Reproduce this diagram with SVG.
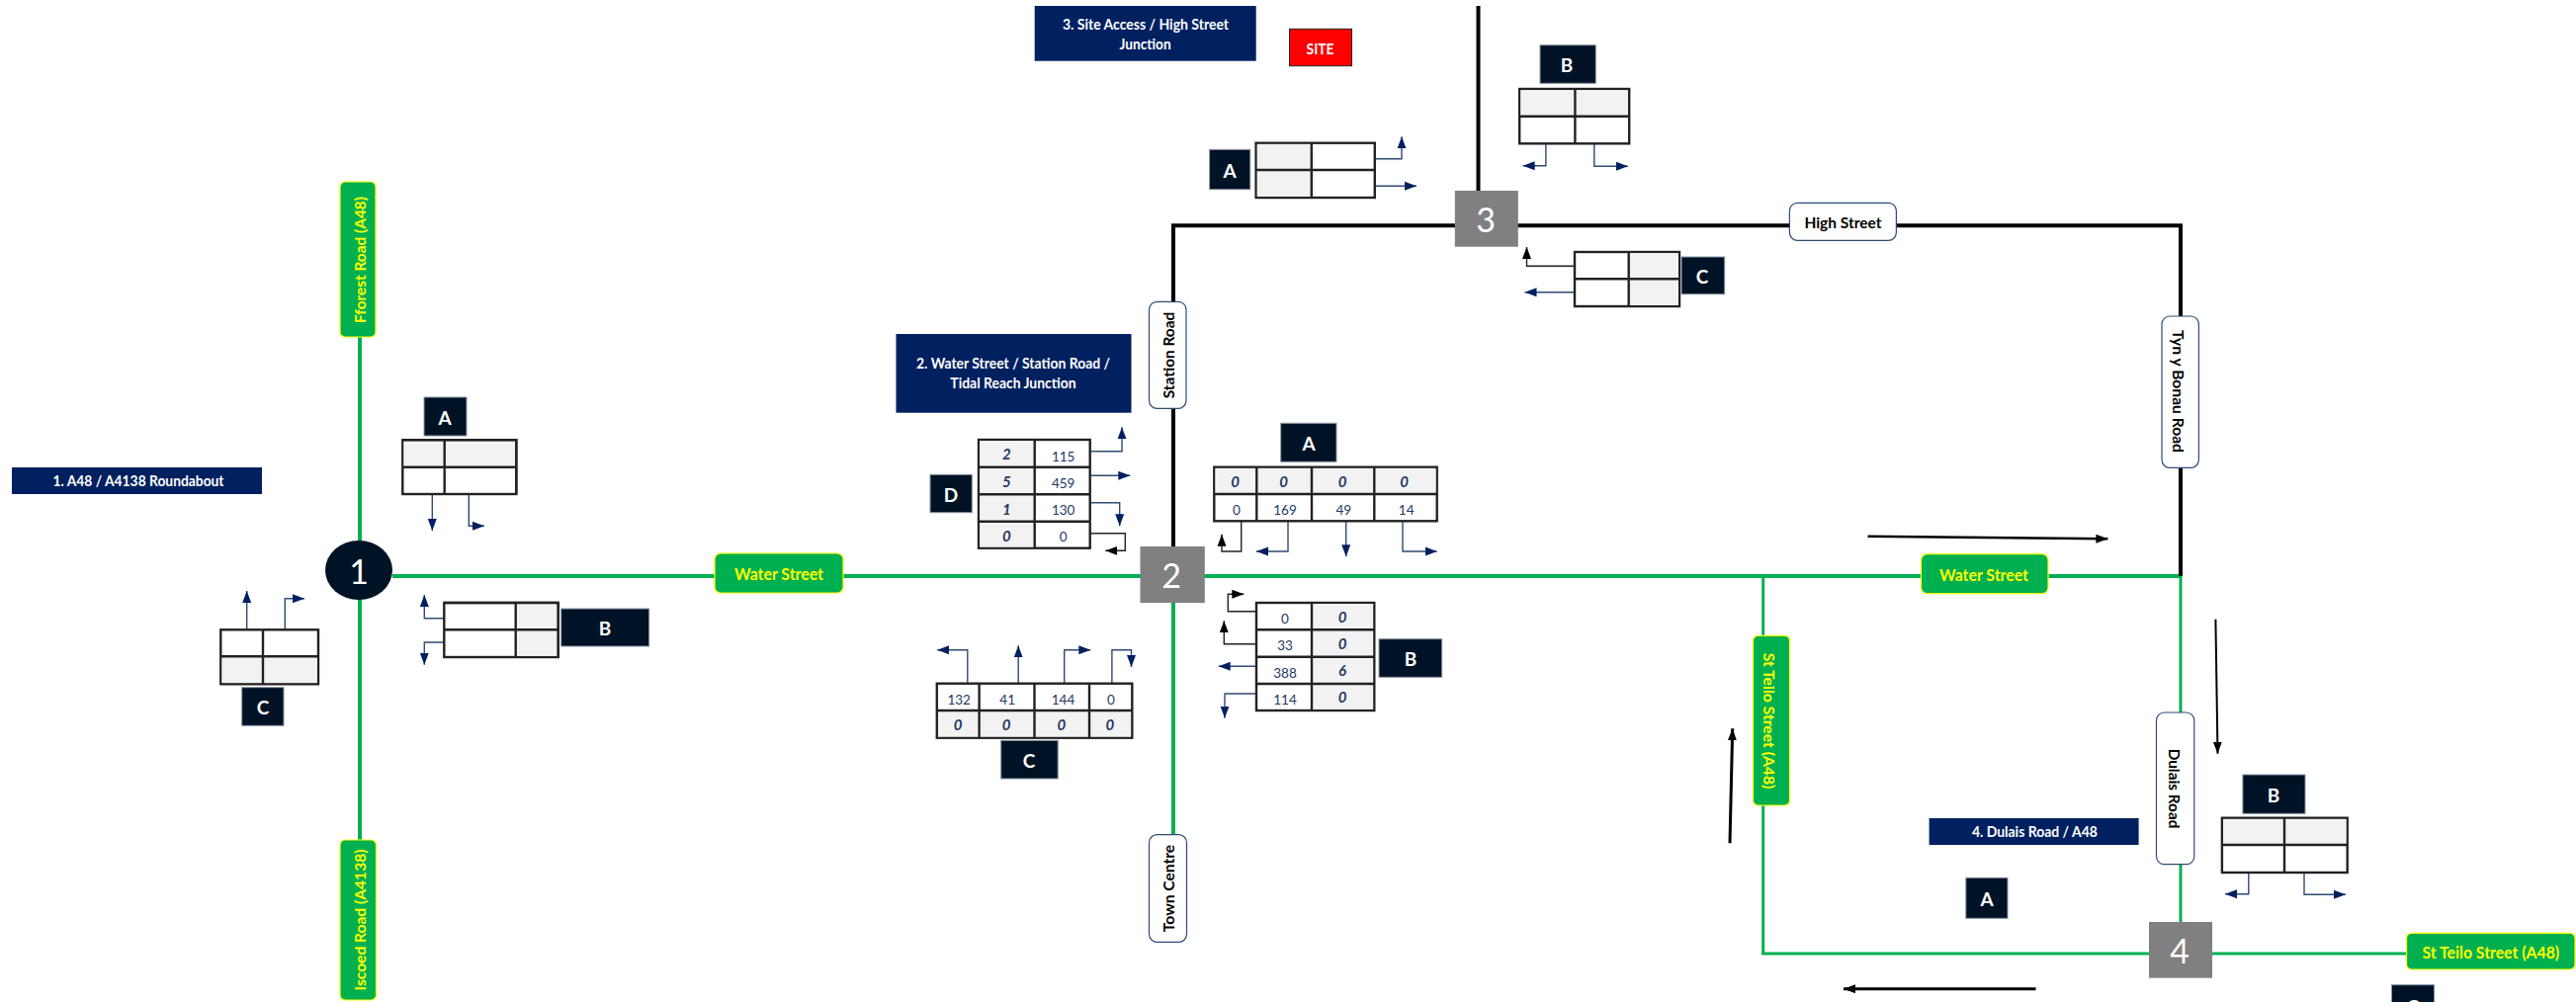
<svg xmlns="http://www.w3.org/2000/svg" width="2606" height="1014" viewBox="0 0 2606 1014">
<style>
text{font-family:"Lato","Liberation Sans",sans-serif;text-anchor:middle;dominant-baseline:central}
.green{stroke:#00B050;stroke-width:4;fill:none}
.green2{stroke:#00B050;stroke-width:3;fill:none}
.black{stroke:#000;stroke-width:4;fill:none}
.arr{stroke:#2F4B73;stroke-width:1.4;fill:none;marker-end:url(#nav)}
.arrk{stroke:#222;stroke-width:1.4;fill:none;marker-end:url(#blk)}
.big{stroke:#000;fill:none;marker-end:url(#big)}
.title{fill:#002060}
.tt{fill:#fff;font-weight:700;font-size:15px}
.lab{fill:#001226;stroke:#8C96A3;stroke-width:1}
.lt{fill:#fff;font-weight:700;font-size:19px}
.node{fill:#808080}
.nt{fill:#fff;font-size:34px}
.gl{fill:#00B050;stroke:#FFFF00;stroke-width:1.2}
.gt{fill:#FFFF00;font-weight:700;font-size:16px}
.wl{fill:#fff;stroke:#2F4B73;stroke-width:1.2}
.wt{fill:#000;font-weight:700;font-size:16px}
.sh{fill:#F2F2F2}
.grid{fill:#fff;stroke:#222;stroke-width:2.4}
.gridl{fill:none;stroke:#222;stroke-width:2.4}
.v{fill:#1F3864;font-size:13.5px}
.i{fill:#1F3864;font-size:15px;font-weight:700;font-style:italic}
</style>
<defs>
<marker id="nav" markerUnits="userSpaceOnUse" markerWidth="14" markerHeight="10" refX="12" refY="5" orient="auto"><path d="M0 .5L12 5L0 9.5z" fill="#002060"/></marker>
<marker id="blk" markerUnits="userSpaceOnUse" markerWidth="14" markerHeight="10" refX="12" refY="5" orient="auto"><path d="M0 .5L12 5L0 9.5z" fill="#000"/></marker>
<marker id="big" markerUnits="userSpaceOnUse" markerWidth="14" markerHeight="10" refX="12" refY="5" orient="auto"><path d="M0 .5L12 5L0 9.5z" fill="#000"/></marker>
</defs>
<rect width="2606" height="1014" fill="#fff"/>
<g id="connectors">
<path class="green" d="M364 341V560M364 600V851M397 583H1160M1215 583H2206M1187 610V845"/>
<path class="black" d="M1187 553V228.3H2206V583M1495.5 6V193"/>
<path class="green2" d="M2206 583V933M1783.7 583V965M1782 965H2440"/>
<path class="arr" d="M437.3 500V537"/><path class="arr" d="M474.3 500V532.3H490"/>
<path class="arr" d="M449.3 625.7H429.3V602"/><path class="arr" d="M449.3 650H429.3V672.7"/>
<path class="arr" d="M249.7 637V598"/><path class="arr" d="M288.3 637V605.7H308"/>
<path class="arr" d="M1390.8 160.7H1418V138.3"/><path class="arr" d="M1390.8 188.3H1433"/>
<path class="arr" d="M1563.9 142V167.7H1540.6"/><path class="arr" d="M1612.8 145V168.3H1646.8"/>
<path class="arrk" d="M1593 269.3H1544.5V250"/><path class="arr" d="M1593 295.7H1542.5"/>
<path class="arr" d="M1102.7 456.7H1135V432.3"/><path class="arr" d="M1102.7 481.3H1143.3"/>
<path class="arr" d="M1102.7 508.7H1132.7V532.3"/><path class="arrk" d="M1102.7 539.7H1138.3V557.3H1118.3"/>
<path class="arrk" d="M1255.7 525.3V558H1236V540.7"/><path class="arr" d="M1303 527V558H1271"/>
<path class="arr" d="M1361.7 525V563.3"/><path class="arr" d="M1419 525V558H1453.7"/>
<path class="arrk" d="M1271 618.7H1242.3V601.3H1258.3"/><path class="arrk" d="M1271 651.7H1238.3V628.3"/>
<path class="arr" d="M1271 674.3H1232.7"/><path class="arr" d="M1271 702H1239V726.7"/>
<path class="arr" d="M978.8 691V657.7H948.2"/><path class="arr" d="M1030.2 691V653.3"/>
<path class="arr" d="M1076.7 691V657.7H1103.3"/><path class="arr" d="M1124.9 691V657.7H1144.5V675"/>
<path class="arr" d="M2274.8 879.3V904.7H2251"/><path class="arr" d="M2331 880V905.3H2373"/>
<path class="big" stroke-width="2.5" d="M1889.5 542.7L2132.4 545.3"/>
<path class="big" stroke-width="2" d="M2241.4 626.7L2243.5 762.7"/>
<path class="big" stroke-width="3" d="M2059.5 1000.7H1865"/>
<path class="big" stroke-width="3" d="M1750 853.3L1752.7 737.3"/>
</g>
<g id="title-1"><rect class="title" x="12" y="473" width="253" height="27"/><text class="tt" x="140" y="486" textLength="173" lengthAdjust="spacingAndGlyphs">1. A48 / A4138 Roundabout</text></g>
<g id="title-2"><rect class="title" x="906.5" y="338" width="238" height="79.7"/><text class="tt" x="1025" y="367" textLength="196" lengthAdjust="spacingAndGlyphs">2. Water Street / Station Road /</text><text class="tt" x="1025" y="387" textLength="127.3" lengthAdjust="spacingAndGlyphs">Tidal Reach Junction</text></g>
<g id="title-3"><rect class="title" x="1046.7" y="6" width="224" height="55.7"/><text class="tt" x="1159" y="24.3" textLength="168" lengthAdjust="spacingAndGlyphs">3. Site Access / High Street</text><text class="tt" x="1158.6" y="44.3" textLength="52" lengthAdjust="spacingAndGlyphs">Junction</text></g>
<g id="title-4"><rect class="title" x="1951.6" y="828" width="212" height="27"/><text class="tt" x="2058.4" y="841" textLength="127" lengthAdjust="spacingAndGlyphs">4. Dulais Road / A48</text></g>
<g id="site"><rect x="1304.5" y="29.3" width="63" height="37.4" fill="#FF0000" stroke="#222" stroke-width="1"/><text class="tt" x="1335.6" y="48.7" textLength="28" lengthAdjust="spacingAndGlyphs">SITE</text></g>

<g id="node-1"><ellipse cx="363" cy="577" rx="34" ry="30" fill="#001226"/><text class="nt" x="363" y="577" fill="#fff">1</text></g>
<g id="node-2"><rect class="node" x="1153.5" y="553" width="65.3" height="57"/><text class="nt" x="1185" y="581">2</text></g>
<g id="node-3"><rect class="node" x="1471.8" y="193" width="64" height="56.7"/><text class="nt" x="1503" y="221">3</text></g>
<g id="node-4"><rect class="node" x="2174" y="933" width="64" height="56.7"/><text class="nt" x="2205" y="961">4</text></g>

<g id="road-fforest"><rect class="gl" x="344" y="184" width="36" height="157" rx="5"/><text class="gt" transform="translate(363 263) rotate(-90)" textLength="128" lengthAdjust="spacingAndGlyphs">Fforest Road (A48)</text></g>
<g id="road-iscoed"><rect class="gl" x="344" y="850" width="36.5" height="162" rx="5"/><text class="gt" transform="translate(363.5 931) rotate(-90)" textLength="143" lengthAdjust="spacingAndGlyphs">Iscoed Road (A4138)</text></g>
<g id="road-water-1"><rect class="gl" x="723" y="560" width="130" height="40" rx="6"/><text class="gt" x="788" y="580" textLength="90" lengthAdjust="spacingAndGlyphs" style="font-size:17px">Water Street</text></g>
<g id="road-water-2"><rect class="gl" x="1943.5" y="560.7" width="128.5" height="40" rx="6"/><text class="gt" x="2007" y="581" textLength="90" lengthAdjust="spacingAndGlyphs" style="font-size:17px">Water Street</text></g>
<g id="road-teilo-v"><rect class="gl" x="1773.5" y="643.3" width="37" height="171.7" rx="5"/><text class="gt" transform="translate(1790.5 729.5) rotate(90)" textLength="137.6" lengthAdjust="spacingAndGlyphs">St Teilo Street (A48)</text></g>
<g id="road-teilo-h"><rect class="gl" x="2434.6" y="944.3" width="170.4" height="36.7" rx="5"/><text class="gt" x="2519.8" y="963" textLength="138.7" lengthAdjust="spacingAndGlyphs" style="font-size:17px">St Teilo Street (A48)</text></g>
<g id="road-station"><rect class="wl" x="1162.5" y="305.3" width="37.5" height="108" rx="8"/><text class="wt" transform="translate(1181 359.5) rotate(-90)" textLength="87.6" lengthAdjust="spacingAndGlyphs">Station Road</text></g>
<g id="road-high"><rect class="wl" x="1810.4" y="205.3" width="108" height="38" rx="8"/><text class="wt" x="1864.4" y="224" textLength="78" lengthAdjust="spacingAndGlyphs">High Street</text></g>
<g id="road-tyn"><rect class="wl" x="2187" y="320" width="37.4" height="153.3" rx="8"/><text class="wt" transform="translate(2204 396) rotate(90)" textLength="124" lengthAdjust="spacingAndGlyphs">Tyn y Bonau Road</text></g>
<g id="road-dulais"><rect class="wl" x="2181.5" y="721" width="38.3" height="153.7" rx="8"/><text class="wt" transform="translate(2200 798) rotate(90)" textLength="80.7" lengthAdjust="spacingAndGlyphs">Dulais Road</text></g>
<g id="road-town"><rect class="wl" x="1162.5" y="844.7" width="38" height="108.6" rx="8"/><text class="wt" transform="translate(1181 899) rotate(-90)" textLength="88.3" lengthAdjust="spacingAndGlyphs">Town Centre</text></g>

<g id="j1-a"><rect class="grid" x="407.3" y="445.3" width="115" height="54.7"/><rect class="sh" x="408.5" y="446.5" width="112.6" height="26"/><path class="gridl" d="M449.7 445.3V500M407.3 472.7H522.3M407.3 445.3H522.3V500"/><rect class="lab" x="429" y="402" width="43" height="39"/><text class="lt" x="450" y="422">A</text></g>
<g id="j1-b"><rect class="grid" x="449.3" y="610" width="115.4" height="55"/><rect class="sh" x="521.7" y="611.2" width="41.8" height="52.6"/><path class="gridl" d="M521.7 610V665M449.3 637.3H564.7M449.3 610H564.7V665"/><rect class="lab" x="567.7" y="616" width="89" height="38"/><text class="lt" x="612" y="635">B</text></g>
<g id="j1-c"><rect class="grid" x="223.3" y="637.3" width="98.7" height="55"/><rect class="sh" x="224.5" y="664.3" width="96.3" height="26.8"/><path class="gridl" d="M266 637.3V692.3M223.3 664.3H322"/><rect class="lab" x="244.7" y="695.7" width="42.3" height="38.6"/><text class="lt" x="266" y="715">C</text></g>

<g id="j2-a"><rect class="grid" x="1228.3" y="472.7" width="225.4" height="54.6"/><rect class="sh" x="1229.5" y="473.9" width="223" height="26"/><path class="gridl" d="M1271.3 472.7V527.3M1327 472.7V527.3M1390.3 472.7V527.3M1228.3 500H1453.7"/><rect class="lab" x="1295.7" y="428.3" width="56.3" height="39"/><text class="lt" x="1324" y="448">A</text>
<text class="i" x="1249.7" y="487.3">0</text><text class="i" x="1298.7" y="487.3">0</text><text class="i" x="1358" y="487.3">0</text><text class="i" x="1420.7" y="487.3">0</text>
<text class="v" x="1251" y="516.3">0</text><text class="v" x="1300" y="516.3">169</text><text class="v" x="1359.3" y="516.3">49</text><text class="v" x="1422.7" y="516.3">14</text></g>
<g id="j2-b"><rect class="grid" x="1271" y="610" width="119.3" height="109"/><rect class="sh" x="1327" y="611.2" width="62.1" height="106.6"/><path class="gridl" d="M1327 610V719M1271 637.3H1390.3M1271 664.7H1390.3M1271 692H1390.3"/><rect class="lab" x="1395" y="646.7" width="63.7" height="38.6"/><text class="lt" x="1427" y="666">B</text>
<text class="v" x="1300" y="626.3">0</text><text class="v" x="1300" y="653">33</text><text class="v" x="1300" y="681.3">388</text><text class="v" x="1300" y="708.3">114</text>
<text class="i" x="1358" y="624">0</text><text class="i" x="1358" y="651.3">0</text><text class="i" x="1358" y="678.3">6</text><text class="i" x="1358" y="705.3">0</text></g>
<g id="j2-c"><rect class="grid" x="947.8" y="691.7" width="197.5" height="55"/><rect class="sh" x="949" y="719" width="195.1" height="26.5"/><path class="gridl" d="M990.6 691.7V746.7M1046.5 691.7V746.7M1102 691.7V746.7M947.8 719H1145.3"/><rect class="lab" x="1012.7" y="749.3" width="57.5" height="38.7"/><text class="lt" x="1041" y="769">C</text>
<text class="v" x="970.2" y="708.3">132</text><text class="v" x="1019.2" y="708.3">41</text><text class="v" x="1075.5" y="708.3">144</text><text class="v" x="1124" y="708.3">0</text>
<text class="i" x="969" y="733.3">0</text><text class="i" x="1018" y="733.3">0</text><text class="i" x="1073.9" y="733.3">0</text><text class="i" x="1122.9" y="733.3">0</text></g>
<g id="j2-d"><rect class="grid" x="990" y="445" width="112.7" height="109.7"/><rect class="sh" x="991.2" y="446.2" width="55.5" height="107.3"/><path class="gridl" d="M1046.7 445V554.7M990 472.7H1102.7M990 500.3H1102.7M990 527.7H1102.7"/><rect class="lab" x="941" y="480.3" width="42.3" height="38.4"/><text class="lt" x="962" y="500">D</text>
<text class="i" x="1018.3" y="459.3">2</text><text class="i" x="1018.3" y="487.3">5</text><text class="i" x="1018.3" y="514.7">1</text><text class="i" x="1018.3" y="541.7">0</text>
<text class="v" x="1075.7" y="462.3">115</text><text class="v" x="1075.7" y="489">459</text><text class="v" x="1075.7" y="516.3">130</text><text class="v" x="1075.7" y="543.3">0</text></g>

<g id="j3-a"><rect class="grid" x="1270.6" y="144.7" width="120.2" height="55.3"/><rect class="sh" x="1271.8" y="145.9" width="55" height="52.9"/><path class="gridl" d="M1326.8 144.7V200M1270.6 172H1390.8"/><rect class="lab" x="1223.6" y="151.3" width="41.2" height="40.4"/><text class="lt" x="1244" y="172">A</text></g>
<g id="j3-b"><rect class="grid" x="1537.2" y="90" width="111" height="55.3"/><rect class="sh" x="1538.4" y="91.2" width="108.6" height="26.5"/><path class="gridl" d="M1593.4 90V145.3M1537.2 117.7H1648.2"/><rect class="lab" x="1558" y="45.7" width="56.3" height="38.6"/><text class="lt" x="1585" y="65">B</text></g>
<g id="j3-c"><rect class="grid" x="1593" y="255" width="106" height="55"/><rect class="sh" x="1647.7" y="256.2" width="50.1" height="52.6"/><path class="gridl" d="M1647.7 255V310M1593 282.3H1699"/><rect class="lab" x="1701" y="260" width="43.7" height="37.7"/><text class="lt" x="1722" y="279">C</text></g>

<g id="j4-a"><rect class="lab" x="1988.8" y="888.3" width="42.2" height="41"/><text class="lt" x="2010" y="909">A</text></g>
<g id="j4-b"><rect class="grid" x="2247.9" y="827.7" width="126.8" height="55.3"/><rect class="sh" x="2249.1" y="828.9" width="124.4" height="26.1"/><path class="gridl" d="M2311 827.7V883M2247.9 855H2374.7"/><rect class="lab" x="2268.9" y="784" width="63.1" height="39.3"/><text class="lt" x="2300" y="804">B</text></g>
<g id="j4-c"><rect class="lab" x="2419.5" y="996.7" width="43.1" height="40"/><text class="lt" x="2441" y="1018">C</text></g>
</svg>
